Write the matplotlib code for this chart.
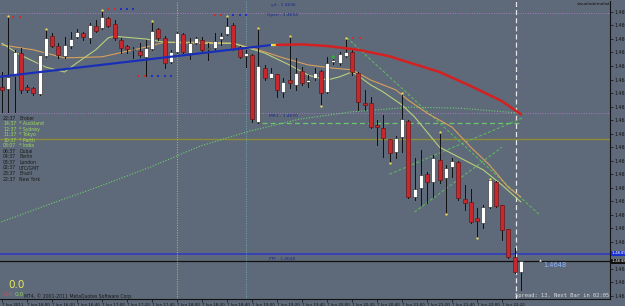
import matplotlib
matplotlib.use('Agg')
import matplotlib.pyplot as plt
from matplotlib.patches import Rectangle

W, H = 625, 306
BG = '#5e6a79'

# ---------------- data ----------------
opens = [1.46801, 1.46798, 1.46822, 1.46864, 1.46801, 1.46799, 1.46788, 1.46858, 1.46895, 1.46877,
         1.46858, 1.46877, 1.46894, 1.46901, 1.46892, 1.46914, 1.46910, 1.46929, 1.46918, 1.46888,
         1.46877, 1.46870, 1.46868, 1.46857, 1.46871, 1.46908, 1.46892, 1.46847, 1.46866, 1.46899,
         1.46864, 1.46882, 1.46888, 1.46871, 1.46873, 1.46890, 1.46899, 1.46916, 1.46875, 1.46858,
         1.46860, 1.46737, 1.46836, 1.46818, 1.46825, 1.46792, 1.46814, 1.46805, 1.46831, 1.46810,
         1.46818, 1.46831, 1.46792, 1.46847, 1.46846, 1.46858, 1.46866, 1.46827, 1.46772, 1.46772,
         1.46731, 1.46725, 1.46705, 1.46681, 1.46709, 1.46738, 1.46598, 1.46614, 1.46640, 1.46626,
         1.46666, 1.46633, 1.46653, 1.46662, 1.46594, 1.46589, 1.46559, 1.46550, 1.46579, 1.46626,
         1.46583, 1.46539, 1.46487, 1.46459]
highs = [1.46829, 1.46932, 1.46870, 1.46873, 1.46805, 1.46801, 1.46860, 1.46908, 1.46901, 1.46882,
         1.46894, 1.46903, 1.46908, 1.46903, 1.46919, 1.46925, 1.46944, 1.46931, 1.46925, 1.46892,
         1.46879, 1.46875, 1.46882, 1.46888, 1.46923, 1.46910, 1.46895, 1.46870, 1.46903, 1.46901,
         1.46892, 1.46894, 1.46894, 1.46882, 1.46901, 1.46901, 1.46932, 1.46919, 1.46877, 1.46870,
         1.46862, 1.46910, 1.46842, 1.46836, 1.46825, 1.46818, 1.46895, 1.46855, 1.46838, 1.46823,
         1.46836, 1.46833, 1.46857, 1.46857, 1.46866, 1.46892, 1.46870, 1.46829, 1.46796, 1.46783,
         1.46740, 1.46749, 1.46705, 1.46711, 1.46790, 1.46740, 1.46670, 1.46685, 1.46644, 1.46675,
         1.46718, 1.46657, 1.46670, 1.46664, 1.46620, 1.46613, 1.46577, 1.46583, 1.46631, 1.46627,
         1.46583, 1.46539, 1.46504, 1.46480]
lows = [1.46755, 1.46755, 1.46755, 1.46790, 1.46792, 1.46786, 1.46786, 1.46857, 1.46875, 1.46855,
        1.46855, 1.46873, 1.46892, 1.46888, 1.46882, 1.46903, 1.46908, 1.46912, 1.46888, 1.46864,
        1.46864, 1.46855, 1.46857, 1.46822, 1.46870, 1.46888, 1.46836, 1.46846, 1.46864, 1.46864,
        1.46853, 1.46881, 1.46866, 1.46851, 1.46870, 1.46879, 1.46897, 1.46870, 1.46855, 1.46838,
        1.46737, 1.46735, 1.46814, 1.46818, 1.46783, 1.46783, 1.46799, 1.46796, 1.46805, 1.46801,
        1.46814, 1.46766, 1.46790, 1.46844, 1.46842, 1.46857, 1.46823, 1.46759, 1.46759, 1.46725,
        1.46694, 1.46672, 1.46661, 1.46670, 1.46681, 1.46596, 1.46592, 1.46583, 1.46587, 1.46598,
        1.46624, 1.46566, 1.46635, 1.46592, 1.46574, 1.46550, 1.46522, 1.46541, 1.46577, 1.46579,
        1.46518, 1.46485, 1.46457, 1.46426]
closes = [1.46796, 1.46820, 1.46866, 1.46796, 1.46796, 1.46790, 1.46860, 1.46892, 1.46877, 1.46860,
          1.46879, 1.46890, 1.46903, 1.46894, 1.46916, 1.46905, 1.46931, 1.46914, 1.46892, 1.46873,
          1.46871, 1.46871, 1.46860, 1.46873, 1.46905, 1.46892, 1.46846, 1.46866, 1.46901, 1.46866,
          1.46882, 1.46892, 1.46870, 1.46873, 1.46886, 1.46895, 1.46914, 1.46871, 1.46857, 1.46864,
          1.46742, 1.46840, 1.46818, 1.46827, 1.46796, 1.46810, 1.46809, 1.46827, 1.46809, 1.46814,
          1.46827, 1.46790, 1.46846, 1.46851, 1.46862, 1.46866, 1.46829, 1.46773, 1.46768, 1.46727,
          1.46727, 1.46707, 1.46679, 1.46707, 1.46742, 1.46598, 1.46613, 1.46639, 1.46626, 1.46670,
          1.46629, 1.46651, 1.46664, 1.46596, 1.46587, 1.46552, 1.46553, 1.46579, 1.46629, 1.46581,
          1.46537, 1.46487, 1.46459, 1.46480]

x_ticks = [0, 4, 8, 12, 16, 20, 24, 28, 32, 36, 40, 44, 48, 52, 56, 60, 64, 68, 72, 76, 80]
x_labels = ['7 Jun 2011', '7 Jun 16:00', '7 Jun 16:20', '7 Jun 16:40', '7 Jun 17:00', '7 Jun 17:20',
            '7 Jun 17:40', '7 Jun 18:00', '7 Jun 18:20', '7 Jun 18:40', '7 Jun 19:00', '7 Jun 19:20',
            '7 Jun 19:40', '7 Jun 20:00', '7 Jun 20:20', '7 Jun 20:40', '7 Jun 21:00', '7 Jun 21:20',
            '7 Jun 21:40', '7 Jun 22:00', '7 Jun 22:20']
y_ticks = [1.46940, 1.46915, 1.46890, 1.46865, 1.46840, 1.46815, 1.46790, 1.46765, 1.46740, 1.46715,
           1.46690, 1.46665, 1.46640, 1.46615, 1.46590, 1.46565, 1.46540, 1.46515, 1.46490, 1.46465,
           1.46440, 1.46415]

# moving averages (bar index, price)
ma_tan_x = [0, 5, 10, 16, 23, 26, 32, 37, 41, 45, 49, 53, 56, 59, 63, 65, 68, 72, 75, 78, 81, 83]
ma_tan_y = [1.46879, 1.46870, 1.46855, 1.46857, 1.46875, 1.46884, 1.46884, 1.46882, 1.46870, 1.46855,
            1.46842, 1.46836, 1.46833, 1.46814, 1.46796, 1.46777, 1.46753, 1.46727, 1.46690, 1.46657,
            1.46616, 1.46598]
ma_grn_x = [0, 3, 7, 10, 12, 15, 17, 18, 23, 26, 32, 37, 42, 46, 49, 52, 54, 56, 57, 59, 61, 64, 66,
            70, 73, 77, 80, 83]
ma_grn_y = [1.46882, 1.46860, 1.46838, 1.46829, 1.46846, 1.46870, 1.46892, 1.46895, 1.46890, 1.46884,
            1.46882, 1.46882, 1.46864, 1.46842, 1.46823, 1.46814, 1.46820, 1.46829, 1.46822, 1.46805,
            1.46792, 1.46768, 1.46746, 1.46690, 1.46672, 1.46648, 1.46620, 1.46589]

# regression / forecast curves
blue_x = [-0.5, 43.2]
blue_y = [1.46820, 1.46879]
red_x = [44, 48, 52, 57, 62, 65, 70, 75, 80, 83]
red_y = [1.46879, 1.46880, 1.46877, 1.46870, 1.46858, 1.46847, 1.46829, 1.46803, 1.46775, 1.46751]
dot_x = [-0.5, 7.7, 15.7, 23.7, 31.7, 39.7, 47.7, 55.7, 65.3, 73.3, 82.9]
dot_y = [1.46550, 1.46585, 1.46618, 1.46653, 1.46692, 1.46720, 1.46742, 1.46755, 1.46764, 1.46762, 1.46753]

# horizontal levels
lvl_top = 1.46938
lvl_purple = 1.46753
lvl_olive = 1.46705
lvl_dash = 1.46735
lvl_pp = 1.46492
bid = 1.46480

# fractal dots
frac_x = [1, 7, 16, 24, 36, 41, 46, 55, 64, 70, 78, 51, 62, 71, 76]
frac_y = [1.46932, 1.46908, 1.46944, 1.46923, 1.46932, 1.46910, 1.46895, 1.46892, 1.46790, 1.46718,
          1.46631, 1.46766, 1.46661, 1.46566, 1.46522]

# signal dot rows
sig_red_x = [1.8, 2.9, 17, 18, 21.8, 22.9, 34, 35, 56.2, 57.3]
sig_red_y = [1.46930, 1.46930, 1.46945, 1.46945, 1.46821, 1.46821, 1.46934, 1.46934, 1.46892, 1.46892]
sig_blue_x = [19, 20, 21, 24, 25, 26, 27, 37, 38, 39]
sig_blue_y = [1.46945, 1.46945, 1.46945, 1.46821, 1.46821, 1.46821, 1.46821, 1.46934, 1.46934, 1.46934]

sess_time = ['22:37', '14:37', '12:37', '11:37', '10:37', '08:07', '06:37', '04:37', '03:37', '02:37',
             '23:37', '22:37']
sess_name = ['Broker', '* Auckland', '* Sydney', '* Tokyo', '* Perth', '* India', 'Dubai', 'Berlin',
             'London', 'UTC/GMT', 'Brazil', 'New York']
sess_open = [False, True, True, True, True, True, False, False, False, False, False, False]

# ---------------- figure ----------------
fig = plt.figure(figsize=(W / 100, H / 100), dpi=100)
fig.patch.set_facecolor(BG)

X0, X1 = 0, 610
Y0, Y1 = 1, 299
ax = fig.add_axes([X0 / W, 1 - Y1 / H, (X1 - X0) / W, (Y1 - Y0) / H])
ax.set_facecolor(BG)

def bx(px):
    return (px - 2) / 6.25

P_TOP = 1.469602
P_BOT = 1.464093
ax.set_xlim(bx(X0), bx(X1))
ax.set_ylim(P_BOT, P_TOP)

for s in ['left', 'top']:
    ax.spines[s].set_visible(False)
ax.spines['right'].set_color('#111111')
ax.spines['bottom'].set_color('#111111')
ax.spines['right'].set_linewidth(0.8)
ax.spines['bottom'].set_linewidth(0.8)

ax.yaxis.tick_right()
ax.set_yticks(y_ticks)
# the tick label hidden behind the highlighted PP box is left blank
ax.set_yticklabels(['' if abs(v - lvl_pp) < 0.00005 else '%.5f' % v for v in y_ticks])
ax.tick_params(axis='y', length=2, width=0.5, pad=1, labelsize=3.4, colors='#111111')
ax.set_xticks(x_ticks)
ax.set_xticklabels(x_labels, ha='left')
ax.tick_params(axis='x', length=2, width=0.5, pad=1, labelsize=2.9, colors='#111111')

# horizontal levels
ax.axhline(lvl_top, color='#a77bc0', lw=0.7, ls=(0, (1, 1.5)), zorder=1)
ax.axhline(lvl_purple, color='#a77bc0', lw=0.7, ls=(0, (1, 1.5)), zorder=1)
ax.axhline(lvl_olive, color='#8e8c36', lw=1.0, zorder=1)
ax.axhline(lvl_pp, color='#2a35c8', lw=1.1, zorder=1)
ax.axhline(bid, color='#101010', lw=0.9, zorder=1)
ax.plot([bx(262), 83.2], [lvl_dash, lvl_dash], color='#6cc46c', lw=0.9, ls=(0, (4, 2.5)), zorder=1)

# vertical lines
ax.axvline(28, color='#b0ae5a', lw=0.8, ls=(0, (1, 1.2)), zorder=1)
ax.axvline(39, color='#6aa9b0', lw=0.7, ls=(0, (1, 1.5)), zorder=1)
ax.axvline(82.2, color='#e8e8e8', lw=0.9, ls=(0, (4, 2.5)), zorder=1)

# dotted regression curve
ax.plot(dot_x, dot_y, color='#6fcf6f', lw=0.8, ls=(0, (1, 1.5)), zorder=2)

# trend lines (green dashed)
ax.plot([55.2, 86.0], [1.46892, 1.46565], color='#5fbf5f', lw=0.7, ls=(0, (3, 2)), zorder=2)
ax.plot([62, 83.5], [1.46640, 1.46745], color='#5fbf5f', lw=0.7, ls=(0, (3, 2)), zorder=2)
ax.plot([66, 80], [1.46570, 1.46690], color='#5fbf5f', lw=0.7, ls=(0, (3, 2)), zorder=2)

# moving averages
ax.plot(ma_tan_x, ma_tan_y, color='#d9a05a', lw=0.8, zorder=3)
ax.plot(ma_grn_x, ma_grn_y, color='#b9cf7a', lw=0.8, zorder=3)

# candles
bw = 0.64
for i in range(len(opens)):
    o, h, l, c = opens[i], highs[i], lows[i], closes[i]
    up = c >= o
    ax.plot([i, i], [l, h], color='#111111', lw=0.7, zorder=4)
    lo, hi = min(o, c), max(o, c)
    if hi - lo < 0.00002:
        hi = lo + 0.00002
    ax.add_patch(Rectangle((i - bw / 2, lo), bw, hi - lo,
                           facecolor='#ffffff' if up else '#c8282c',
                           edgecolor='#222222' if up else '#5a1010', lw=0.4, zorder=5))

# thick regression lines
ax.plot(blue_x, blue_y, color='#1a2fb8', lw=1.6, zorder=6, solid_capstyle='butt')
ax.plot([43.2, 44.0], [1.46879, 1.46879], color='#e8e040', lw=1.6, zorder=6)
ax.plot(red_x, red_y, color='#d42020', lw=1.8, zorder=6)

# fractals
ax.scatter(frac_x, frac_y, s=3, color='#e8d060', zorder=7, linewidths=0)
ax.scatter(sig_red_x, sig_red_y, s=2, color='#c83030', marker='s', zorder=7, linewidths=0)
ax.scatter(sig_blue_x, sig_blue_y, s=2, color='#2030c0', marker='s', zorder=7, linewidths=0)
ax.annotate('', xy=(53, 1.46846), xytext=(53, 1.46866),
            arrowprops=dict(arrowstyle='-|>', color='#30b030', lw=0.8, mutation_scale=4), zorder=7)

# price marker
ax.scatter([86.0], [1.46482], s=3, marker='^', color='#f0f0f0', zorder=7, linewidths=0)

def ft(x, y, s, **kw):
    fig.text(x / W, 1 - y / H, s, va='center', **kw)

# labels
ft(271, 5, 'y4 : 1.4696', fontsize=3.2, color='#1c2a8a')
ft(267, 15, 'Open : 1.4694', fontsize=3.2, color='#1c2a8a')
ft(269, 116, 'MR1 : 1.4670', fontsize=3.2, color='#1c2a8a')
ft(269, 259, 'PPf : 1.4648', fontsize=3.2, color='#1c2a8a')
ft(577, 4, 'visualsdemolist', fontsize=3.2, color='#111111')
ft(543, 265, '1.4648', fontsize=4.8, color='#8fb4ff')
ft(515, 296, 'Spread: 13. Next Bar in 02:05', fontsize=3.9, color='#dcdcdc', family='DejaVu Sans Mono')

for k in range(len(sess_time)):
    col = '#9ddc5a' if sess_open[k] else '#1a1a1a'
    yy = 118.3 + k * 5.52
    ft(3, yy, sess_time[k], fontsize=3.3, color=col)
    ft(19, yy, sess_name[k], fontsize=3.3, color=col)

ft(8, 285, '0.0', fontsize=7.5, color='#e8e85a')
ft(24, 296.5, 'MT4, \u00a9 2001-2011 MetaQuotes Software Corp.', fontsize=3.3, color='#1a1a1a')
ft(4, 294, '0.0', fontsize=4.3, color='#d05050')
ft(15, 294, '0.0', fontsize=4.3, color='#8fd060')

# highlighted price labels on axis
ft(611, 253.5, '1.46492', fontsize=3.1, color='#ffffff',
   bbox=dict(boxstyle='square,pad=0.05', fc='#1a2fd0', ec='none'))
ft(611, 261.5, '1.46480', fontsize=3.1, color='#ffffff',
   bbox=dict(boxstyle='square,pad=0.05', fc='#101010', ec='none'))

fig.savefig('out.png', dpi=100, facecolor=BG)
